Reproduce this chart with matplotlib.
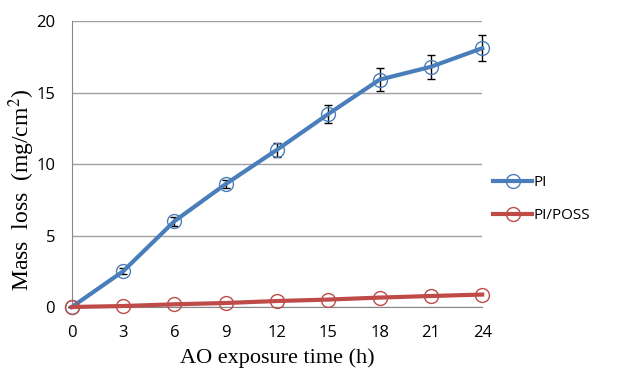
import numpy as np
from matplotlib import pyplot as plt

plt.rcParams["mathtext.fontset"] = "stix"

hours = [0, 3, 6, 9, 12, 15, 18, 21, 24]
pi_loss = [0, 2.5, 6.0, 8.6, 11.0, 13.5, 15.9, 16.8, 18.1]
pi_err = [0, 0.2, 0.3, 0.3, 0.5, 0.6, 0.8, 0.85, 0.9]
poss_loss = [0, 0.07, 0.19, 0.28, 0.42, 0.52, 0.66, 0.77, 0.87]

fig = plt.figure(figsize=(6.19, 3.69), dpi=100)
ax = fig.add_axes([0.116, 0.168, 0.663, 0.775])

ax.errorbar(hours, pi_loss, yerr=pi_err, fmt="none", ecolor="black",
            elinewidth=1, capsize=3, capthick=1, zorder=2)
ax.plot(hours, pi_loss, "-o", color="#4A7EBB", lw=3, ms=10, mfc="none",
        mec="#4A7EBB", mew=1, label="PI", zorder=3)
ax.plot(hours, poss_loss, "-o", color="#BE4B48", lw=3, ms=10, mfc="none",
        mec="#BE4B48", mew=1, label="PI/POSS", zorder=3)

ax.set_xlim(0, 24)
ax.set_ylim(0, 20)
ax.set_xticks(hours)
ax.set_yticks([0, 5, 10, 15, 20])
ax.yaxis.grid(True, color="#A0A0A0", lw=1)
ax.set_axisbelow(True)
for s in ["top", "right"]:
    ax.spines[s].set_visible(False)
for s in ["left", "bottom"]:
    ax.spines[s].set_color("#888888")
ax.tick_params(axis="x", length=0, labelsize=12, pad=13)
ax.tick_params(axis="y", length=0, labelsize=12, pad=12)
for lab in ax.get_xticklabels() + ax.get_yticklabels():
    lab.set_fontfamily("Open Sans")

ax.set_xlabel("AO exposure time (h)", fontsize=16, family="Liberation Serif", labelpad=5)
ax.set_ylabel("Mass  loss  (mg/cm$^2$)", fontsize=17, family="Liberation Serif")
ax.yaxis.set_label_coords(-0.085, 0.41)

leg = fig.legend(loc="upper left", bbox_to_anchor=(0.775, 0.563), frameon=False,
                 prop={"family": "Open Sans", "size": 11}, handlelength=2.5,
                 labelspacing=1.2, handletextpad=0.1)
for line in ax.lines:
    line.set_clip_on(False)
for c in ax.collections:
    c.set_clip_on(False)

fig.savefig("out.png", dpi=100)
